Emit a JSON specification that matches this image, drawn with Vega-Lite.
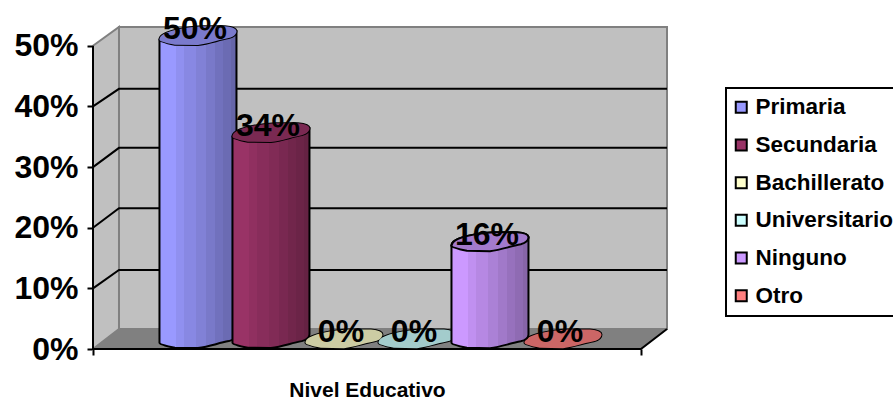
{
  "$schema": "https://vega.github.io/schema/vega-lite/v6.json",
  "width": 574,
  "height": 322,
  "autosize": "none",
  "padding": {"left": 93, "top": 27, "right": 226, "bottom": 52},
  "background": "white",
  "config": {"view": {"stroke": null}, "font": "Liberation Sans"},
  "datasets": {
    "niveles": [
      {"nivel": "Primaria", "x": 0, "y": 0.5},
      {"nivel": "Secundaria", "x": 1, "y": 0.34},
      {"nivel": "Bachillerato", "x": 2, "y": 0},
      {"nivel": "Universitario", "x": 3, "y": 0},
      {"nivel": "Ninguno", "x": 4, "y": 0.16},
      {"nivel": "Otro", "x": 5, "y": 0}
    ],
    "pared_fondo": [{"x": -1.082, "x2": 6.425, "y": 0.033, "y2": 0.531}],
    "pared_lateral": [
      {"x": -1.438, "y": 0.5, "y2": 0},
      {"x": -1.082, "y": 0.531, "y2": 0.033}
    ],
    "suelo": [
      {"x": -1.438, "y": 0, "y2": 0},
      {"x": -1.082, "y": 0.033, "y2": 0},
      {"x": 6.068, "y": 0.033, "y2": 0},
      {"x": 6.425, "y": 0.033, "y2": 0.033}
    ],
    "rejilla": [
      {"nivel": 0.1, "x": -1.438, "y": 0.1},
      {"nivel": 0.1, "x": -1.082, "y": 0.1304},
      {"nivel": 0.1, "x": 6.425, "y": 0.1304},
      {"nivel": 0.2, "x": -1.438, "y": 0.2},
      {"nivel": 0.2, "x": -1.082, "y": 0.232},
      {"nivel": 0.2, "x": 6.425, "y": 0.232},
      {"nivel": 0.3, "x": -1.438, "y": 0.3},
      {"nivel": 0.3, "x": -1.082, "y": 0.3317},
      {"nivel": 0.3, "x": 6.425, "y": 0.3317},
      {"nivel": 0.4, "x": -1.438, "y": 0.4},
      {"nivel": 0.4, "x": -1.082, "y": 0.429},
      {"nivel": 0.4, "x": 6.425, "y": 0.429}
    ],
    "marco": [
      {"x": -1.438, "y": 0.5},
      {"x": -1.438, "y": 0},
      {"x": 6.068, "y": 0},
      {"x": 6.425, "y": 0.033}
    ]
  },
  "encoding": {
    "x": {
      "field": "x",
      "type": "quantitative",
      "scale": {"domain": [-1.438, 6.425], "nice": false, "zero": false},
      "axis": {
        "title": "Nivel Educativo",
        "titleFontSize": 21,
        "titleFontWeight": "bold",
        "titleColor": "black",
        "titleBaseline": "alphabetic",
        "titleX": 274,
        "titleY": 47,
        "values": [-1.438, 6.068],
        "labels": false,
        "domain": false,
        "grid": false,
        "tickColor": "black",
        "tickWidth": 2,
        "tickSize": 6
      }
    },
    "y": {
      "field": "y",
      "type": "quantitative",
      "scale": {"domain": [0, 0.531], "nice": false},
      "axis": {
        "title": null,
        "values": [0, 0.1, 0.2, 0.3, 0.4, 0.5],
        "format": ".0%",
        "labelFontSize": 32,
        "labelFontWeight": "bold",
        "labelColor": "black",
        "labelPadding": 9,
        "domain": false,
        "grid": false,
        "tickColor": "black",
        "tickWidth": 2,
        "tickSize": 6
      }
    }
  },
  "layer": [
    {
      "data": {"name": "pared_fondo"},
      "mark": {"type": "rect", "fill": "#C0C0C0", "stroke": "#808080", "strokeWidth": 2},
      "encoding": {"x2": {"field": "x2"}, "y2": {"field": "y2"}}
    },
    {
      "data": {"name": "pared_lateral"},
      "mark": {"type": "area", "fill": "#C0C0C0", "stroke": "#808080", "strokeWidth": 2},
      "encoding": {"y2": {"field": "y2"}}
    },
    {
      "data": {"name": "suelo"},
      "mark": {"type": "area", "fill": "#808080"},
      "encoding": {"y2": {"field": "y2"}}
    },
    {
      "data": {"name": "rejilla"},
      "mark": {"type": "line", "color": "black", "strokeWidth": 2},
      "encoding": {"detail": {"field": "nivel"}}
    },
    {
      "data": {"name": "marco"},
      "mark": {"type": "line", "color": "black", "strokeWidth": 2},
      "encoding": {"order": {"field": "x"}}
    },
    {
      "data": {"name": "niveles"},
      "transform": [{"filter": "datum.nivel === 'Primaria'"}],
      "mark": {
        "type": "point", "filled": true, "opacity": 1, "size": 5929, "yOffset": -10,
        "shape": "M-1,.1 L-1,7.97 C-1,8.01 -.85,8.05 -.6,8.1 L0,8.11 C.3,8.07 .5,7.99 .8,7.93 C.95,7.89 1,7.81 1,7.75 L1,-.12 Z",
        "stroke": "black", "strokeWidth": 2,
        "fill": {"gradient": "linear", "x1": 0, "x2": 1, "y1": 0, "y2": 0, "stops": [
          {"offset": 0, "color": "#9999ff"}, {"offset": 0.22, "color": "#9999ff"},
          {"offset": 0.22, "color": "#9090f0"}, {"offset": 0.32, "color": "#9090f0"},
          {"offset": 0.32, "color": "#8888e3"}, {"offset": 0.47, "color": "#8888e3"},
          {"offset": 0.47, "color": "#8181d6"}, {"offset": 0.6, "color": "#8181d6"},
          {"offset": 0.6, "color": "#7979c9"}, {"offset": 0.72, "color": "#7979c9"},
          {"offset": 0.72, "color": "#7171bd"}, {"offset": 0.82, "color": "#7171bd"},
          {"offset": 0.82, "color": "#6b6bb3"}, {"offset": 0.93, "color": "#6b6bb3"},
          {"offset": 0.93, "color": "#6565a8"}, {"offset": 1, "color": "#6565a8"}
        ]}
      }
    },
    {
      "data": {"name": "niveles"},
      "transform": [{"filter": "datum.nivel === 'Secundaria'"}],
      "mark": {
        "type": "point", "filled": true, "opacity": 1, "size": 5929, "yOffset": -10,
        "shape": "M-1,.1 L-1,5.45 C-1,5.49 -.85,5.53 -.6,5.58 L0,5.59 C.3,5.55 .5,5.47 .8,5.41 C.95,5.37 1,5.29 1,5.23 L1,-.12 Z",
        "stroke": "black", "strokeWidth": 2,
        "fill": {"gradient": "linear", "x1": 0, "x2": 1, "y1": 0, "y2": 0, "stops": [
          {"offset": 0, "color": "#993366"}, {"offset": 0.22, "color": "#993366"},
          {"offset": 0.22, "color": "#903060"}, {"offset": 0.32, "color": "#903060"},
          {"offset": 0.32, "color": "#882d5b"}, {"offset": 0.47, "color": "#882d5b"},
          {"offset": 0.47, "color": "#812b56"}, {"offset": 0.6, "color": "#812b56"},
          {"offset": 0.6, "color": "#792851"}, {"offset": 0.72, "color": "#792851"},
          {"offset": 0.72, "color": "#71264b"}, {"offset": 0.82, "color": "#71264b"},
          {"offset": 0.82, "color": "#6b2447"}, {"offset": 0.93, "color": "#6b2447"},
          {"offset": 0.93, "color": "#652243"}, {"offset": 1, "color": "#652243"}
        ]}
      }
    },
    {
      "data": {"name": "niveles"},
      "mark": {
        "type": "point", "filled": true, "opacity": 1, "size": 5929, "yOffset": -10,
        "shape": "M-1,.1 C-1,.14 -.85,.18 -.6,.23 L0,.24 C.3,.2 .5,.12 .8,.06 C.95,.02 1,-.06 1,-.12 C1,-.2 .85,-.24 .7,-.25 L.1,-.25 C-.3,-.22 -.7,-.16 -.9,-.04 C-.97,0 -1,.05 -1,.1 Z",
        "fill": "black", "stroke": "black", "strokeWidth": 2
      }
    },
    {
      "data": {"name": "niveles"},
      "mark": {
        "type": "point", "filled": true, "opacity": 1, "fillOpacity": 0.8, "size": 5929, "yOffset": -10,
        "shape": "M-1,.1 C-1,.14 -.85,.18 -.6,.23 L0,.24 C.3,.2 .5,.12 .8,.06 C.95,.02 1,-.06 1,-.12 C1,-.2 .85,-.24 .7,-.25 L.1,-.25 C-.3,-.22 -.7,-.16 -.9,-.04 C-.97,0 -1,.05 -1,.1 Z"
      },
      "encoding": {
        "color": {
          "field": "nivel",
          "type": "nominal",
          "scale": {
            "domain": ["Primaria", "Secundaria", "Bachillerato", "Universitario", "Ninguno", "Otro"],
            "range": ["#9999FF", "#993366", "#FFFFCC", "#CCFFFF", "#CC99FF", "#FF8080"]
          },
          "legend": {
            "title": null,
            "orient": "none",
            "legendX": 633,
            "legendY": 61,
            "symbolType": "square",
            "symbolSize": 121,
            "symbolStrokeColor": "black",
            "symbolStrokeWidth": 2,
            "symbolOpacity": 1,
            "symbolOffset": -4,
            "labelFontSize": 22.5,
            "labelFontWeight": "bold",
            "labelColor": "black",
            "labelOffset": 3,
            "rowPadding": 14.7,
            "padding": 8,
            "strokeColor": "black",
            "fillColor": "white",
            "encode": {"legend": {"update": {"strokeWidth": {"value": 2}}}}
          }
        }
      }
    },
    {
      "data": {"name": "niveles"},
      "transform": [{"filter": "datum.nivel === 'Ninguno'"}],
      "mark": {
        "type": "point", "filled": true, "opacity": 1, "size": 5929, "yOffset": -10,
        "shape": "M-1,.1 L-1,2.62 C-1,2.66 -.85,2.7 -.6,2.75 L0,2.76 C.3,2.72 .5,2.64 .8,2.58 C.95,2.54 1,2.46 1,2.4 L1,-.12 Z",
        "stroke": "black", "strokeWidth": 2,
        "fill": {"gradient": "linear", "x1": 0, "x2": 1, "y1": 0, "y2": 0, "stops": [
          {"offset": 0, "color": "#cc99ff"}, {"offset": 0.22, "color": "#cc99ff"},
          {"offset": 0.22, "color": "#c090f0"}, {"offset": 0.32, "color": "#c090f0"},
          {"offset": 0.32, "color": "#b688e3"}, {"offset": 0.47, "color": "#b688e3"},
          {"offset": 0.47, "color": "#ab81d6"}, {"offset": 0.6, "color": "#ab81d6"},
          {"offset": 0.6, "color": "#a179c9"}, {"offset": 0.72, "color": "#a179c9"},
          {"offset": 0.72, "color": "#9771bd"}, {"offset": 0.82, "color": "#9771bd"},
          {"offset": 0.82, "color": "#8f6bb3"}, {"offset": 0.93, "color": "#8f6bb3"},
          {"offset": 0.93, "color": "#8765a8"}, {"offset": 1, "color": "#8765a8"}
        ]}
      }
    },
    {
      "data": {"name": "niveles"},
      "transform": [{"filter": "datum.nivel === 'Ninguno'"}],
      "mark": {
        "type": "point", "filled": true, "opacity": 1, "size": 5929, "yOffset": -10,
        "shape": "M-1,.1 C-1,.14 -.85,.18 -.6,.23 L0,.24 C.3,.2 .5,.12 .8,.06 C.95,.02 1,-.06 1,-.12 C1,-.2 .85,-.24 .7,-.25 L.1,-.25 C-.3,-.22 -.7,-.16 -.9,-.04 C-.97,0 -1,.05 -1,.1 Z",
        "fill": "#a37acc", "stroke": "black", "strokeWidth": 2
      }
    },
    {
      "data": {"name": "niveles"},
      "mark": {
        "type": "text", "fontSize": 32, "fontWeight": "bold", "color": "black",
        "baseline": "alphabetic", "align": "center", "dx": -3, "dy": -7
      },
      "encoding": {"text": {"field": "y", "type": "quantitative", "format": ".0%"}}
    }
  ]
}
